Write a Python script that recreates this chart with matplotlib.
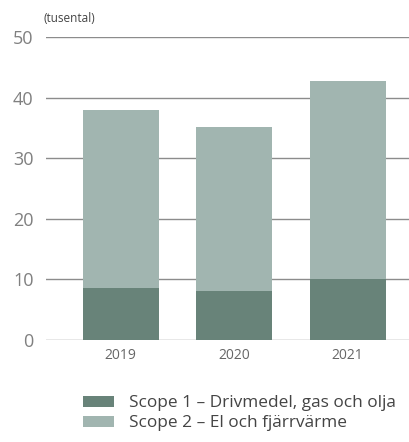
import matplotlib.pyplot as plt
import numpy as np

plt.rcParams['font.family'] = ['Open Sans', 'DejaVu Sans']

years = ['2019', '2020', '2021']
scope1 = [8.6, 8.1, 10.0]
scope2_total = [38.0, 35.1, 42.7]
scope2 = [t - s for t, s in zip(scope2_total, scope1)]
yticks = [0, 10, 20, 30, 40, 50]

c_dark = '#688379'
c_light = '#a1b5b0'
c_grid = '#8c8c8c'
c_text = '#808080'

fig = plt.figure(figsize=(4.10, 4.42), dpi=100)
ax = fig.add_axes([0.112, 0.231, 0.888, 0.685])

x = np.arange(len(years))
ax.bar(x, scope1, width=0.67, color=c_dark, label='Scope 1 – Drivmedel, gas och olja', zorder=3)
ax.bar(x, scope2, width=0.67, bottom=scope1, color=c_light, label='Scope 2 – El och fjärrvärme', zorder=3)

ax.set_ylim(0, 50)
ax.set_xlim(-0.66, 2.55)
ax.set_yticks(yticks)
ax.set_xticks(x)
ax.set_xticklabels(years)
ax.yaxis.grid(True, color=c_grid, linewidth=1.0, zorder=0)
ax.set_axisbelow(True)
for s in ax.spines.values():
    s.set_visible(False)
ax.tick_params(axis='y', length=0, pad=9, labelsize=13, labelcolor=c_text)
ax.tick_params(axis='x', length=0, pad=6, labelsize=10, labelcolor='#666666')

fig.text(0.107, 0.959, '(tusental)', fontsize=8.5, color='#444444', ha='left', va='center')

fig.legend(loc='upper left', bbox_to_anchor=(0.2024, 0.106), frameon=False,
           fontsize=12.4, handlelength=1.8, handleheight=0.6,
           handletextpad=0.85, labelspacing=0.25, borderaxespad=0, borderpad=0,
           labelcolor='#444444')

fig.savefig('out.png', dpi=100)
